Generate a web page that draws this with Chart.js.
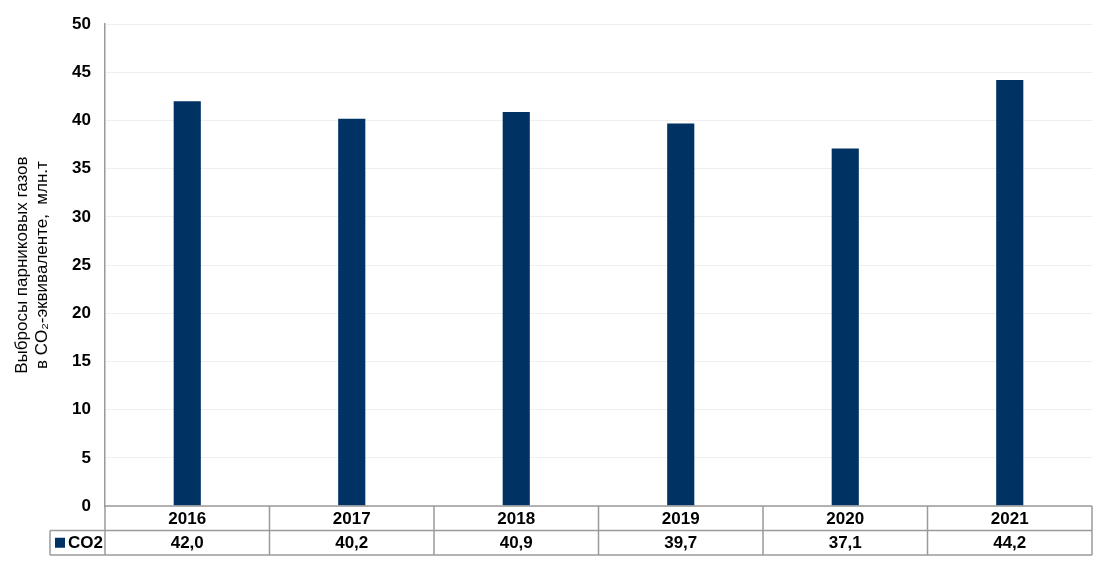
<!DOCTYPE html>
<html>
<head>
<meta charset="utf-8">
<script src="https://cdn.jsdelivr.net/npm/chart.js@4"></script>
<style>
  html, body { margin: 0; padding: 0; background: #fff; }
  #wrap { width: 1100px; height: 566px; }
</style>
</head>
<body>
<div id="wrap"><canvas id="co2Chart" width="1100" height="566"></canvas></div>
<script>
// Greenhouse gas emissions by year, with an Excel-style data table under the axis.
const years = ['2016', '2017', '2018', '2019', '2020', '2021'];
const co2 = [42.0, 40.2, 40.9, 39.7, 37.1, 44.2];
const seriesName = 'CO2';
const yTicks = [0, 5, 10, 15, 20, 25, 30, 35, 40, 45, 50];

const BAR = '#003263';
const LINE = '#9a9a9a';
const FONT = "'Liberation Sans Narrow', 'Liberation Sans', Arial, sans-serif";

// draws the data table (years row + values row + legend key) below the plot
const dataTable = {
    id: 'dataTable',
    afterDraw(chart) {
        const { ctx, chartArea } = chart;
        const x = chart.scales.x;
        const top = chartArea.bottom, rowH = 24.5;
        const left = chartArea.left, right = chartArea.right;
        const legendLeft = 50;
        const step = (right - left) / years.length;
        ctx.save();
        ctx.strokeStyle = LINE;
        ctx.lineWidth = 1.5;
        ctx.beginPath();
        ctx.moveTo(left, top); ctx.lineTo(right, top);
        ctx.moveTo(legendLeft, top + rowH); ctx.lineTo(right, top + rowH);
        ctx.moveTo(legendLeft, top + 2 * rowH); ctx.lineTo(right, top + 2 * rowH);
        ctx.moveTo(legendLeft, top + rowH); ctx.lineTo(legendLeft, top + 2 * rowH);
        for (let i = 0; i <= years.length; i++) {
            const px = left + i * step;
            ctx.moveTo(px, top); ctx.lineTo(px, top + 2 * rowH);
        }
        ctx.stroke();
        ctx.fillStyle = '#000';
        ctx.font = 'bold 17px ' + FONT;
        ctx.textAlign = 'center';
        ctx.textBaseline = 'middle';
        years.forEach((yr, i) => {
            const cx = x.getPixelForValue(i);
            ctx.fillText(yr, cx, top + rowH / 2 + 1);
            ctx.fillText(co2[i].toFixed(1).replace('.', ','), cx, top + rowH * 1.5 + 1);
        });
        // legend key
        ctx.fillStyle = BAR;
        ctx.fillRect(55, top + rowH * 1.5 - 5, 10, 10);
        ctx.fillStyle = '#000';
        ctx.textAlign = 'left';
        ctx.fillText(seriesName, 68, top + rowH * 1.5 + 1);
        ctx.restore();
    }
};

new Chart(document.getElementById('co2Chart'), {
    type: 'bar',
    data: {
        labels: years,
        datasets: [{
            label: seriesName,
            data: co2,
            backgroundColor: BAR,
            borderWidth: 0,
            categoryPercentage: 1,
            barPercentage: 0.165
        }]
    },
    options: {
        responsive: false,
        animation: false,
        layout: { padding: { left: 0, top: 24, right: 8, bottom: 60 } },
        plugins: {
            legend: { display: false },
            tooltip: { enabled: false }
        },
        scales: {
            x: { display: false },
            y: {
                min: 0, max: 50,
                afterBuildTicks: s => { s.ticks = yTicks.map(v => ({ value: v })); },
                afterFit: s => { s.width = 105; },
                ticks: {
                    color: '#000',
                    padding: 14,
                    font: { family: FONT, size: 17, weight: 'bold' }
                },
                grid: { color: '#efefef', drawTicks: false },
                border: { display: true, color: LINE, width: 1.5 },
                title: {
                    display: true,
                    text: ['Выбросы парниковых газов', 'в CO₂-эквиваленте,  млн.т'],
                    color: '#000',
                    font: { family: "'Liberation Sans', Arial, sans-serif", size: 17 },
                    lineHeight: 1.1,
                    padding: { top: 12, bottom: 0 }
                }
            }
        }
    },
    plugins: [dataTable]
});
</script>
</body>
</html>
